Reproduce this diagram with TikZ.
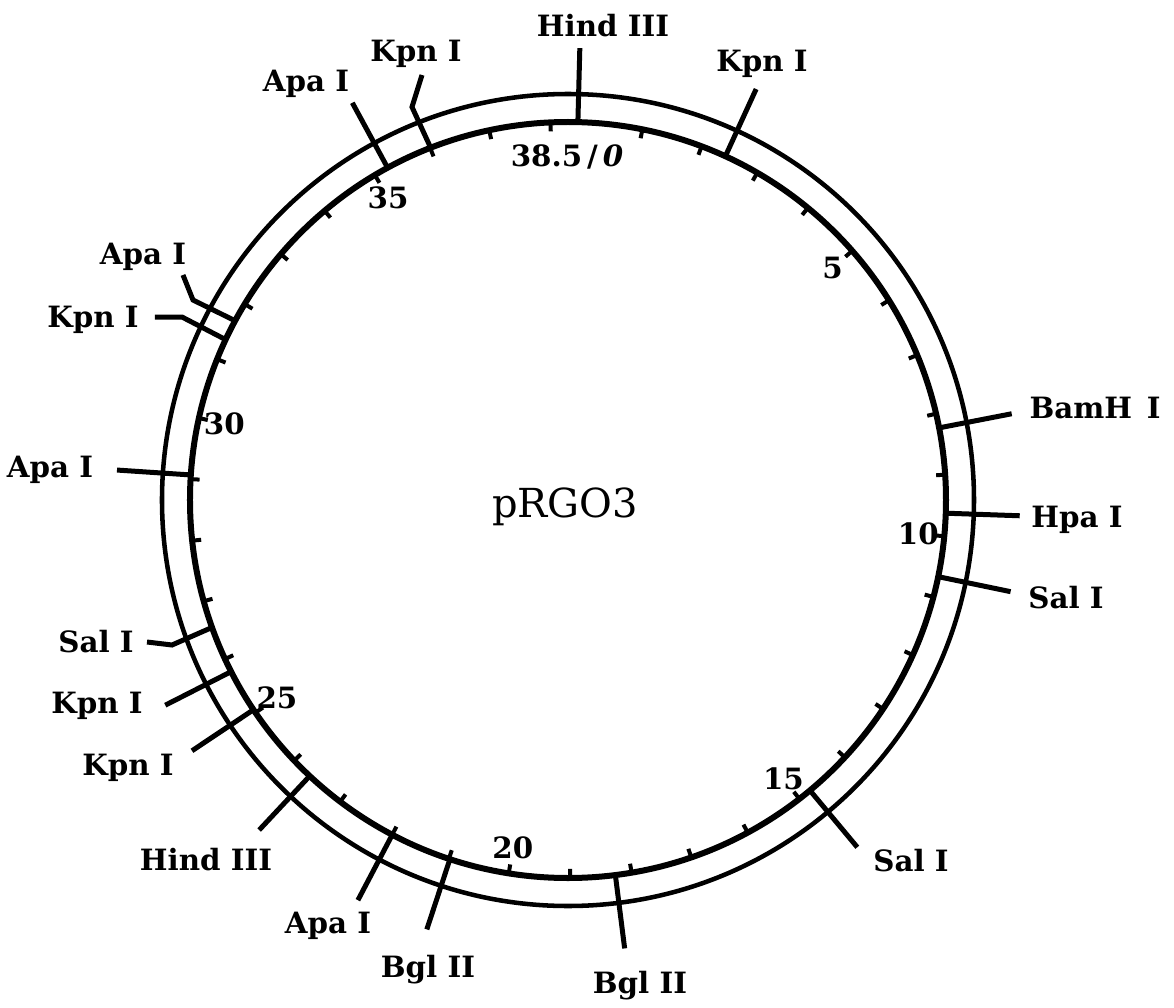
\documentclass[tikz,border=0pt]{standalone}
\usepackage{tikz}
\usepackage{fontspec}
\setmainfont{DejaVu Serif}

\begin{document}
\begin{tikzpicture}[x=0.75pt,y=0.75pt,
    site/.style={font=\fontsize{22}{26}\selectfont\bfseries, anchor=base, inner sep=0pt},
    num/.style={font=\fontsize{22}{26}\selectfont\bfseries, inner sep=0pt},
    cut/.style={line width=3.75pt},
    tickmark/.style={line width=3pt}]
    \useasboundingbox (-568,-507) rectangle (606,500);
    % plasmid ring
    \draw[line width=3.4pt] (0,0) circle (406);
    \draw[line width=4.5pt] (0,0) circle (378);
    \node[font=\fontsize{30}{36}\selectfont, anchor=base] (name) at (-3,-17) {pRGO3};
    % kb scale, 38.5 kb, 0 at top
    \foreach \k in {1,...,38}
        \draw[tickmark] ({88-\k*360/38.5}:378) -- ({88-\k*360/38.5}:369);
    \foreach \k in {5,10,...,35}
        \node[num] (kb\k) at ({88-\k*360/38.5}:352) {\k};
    \node[num] (kb0) at (-1,343) {38.5\,/\,{\itshape 0}};
    % straight sites
    \foreach \n/\a/\x/\y/\txt in {
        hindt/88.5/35/463/Hind III,
        kpnr/65.4/194/428/Kpn I,
        apat/118.5/-262/408/Apa I,
        apal/176.2/-518/23/Apa I,
        bamh/11.0/527/82/BamH\enspace I,
        hpa/-2.0/509/-27/Hpa I,
        salr/-11.7/498/-108/Sal I,
        salb/-50.2/343/-371/Sal I,
        bglr/-82.8/72/-493/Bgl II,
        bgll/-108.2/-140/-477/Bgl II,
        apab/-117.7/-240/-433/Apa I,
        hindb/-133.1/-362/-370/Hind III,
        kpnlo/-146.3/-440/-275/Kpn I,
        kpnup/-153.0/-471/-213/Kpn I}{
        \coordinate (in\n) at (\a:378);
        \coordinate (out\n) at (\a:452);
        \node[site] (lab\n) at (\x,\y) {\txt};
        \draw[cut] (in\n) -- (out\n);
    }
    % bent sites
    \foreach \n/\a/\bx/\by/\ex/\ey/\x/\y/\txt in {
        kpntl/111.3/-156/393/-146/425/-152/438/Kpn I,
        apaul/151.7/-375/200/-385/225/-425/235/Apa I,
        kpnl/154.9/-386/183/-413/183/-475/173/Kpn I,
        sall/-160.3/-396/-145/-421/-142/-472/-152/Sal I}{
        \coordinate (in\n) at (\a:378);
        \coordinate (bend\n) at (\bx,\by);
        \coordinate (out\n) at (\ex,\ey);
        \node[site] (lab\n) at (\x,\y) {\txt};
        \draw[cut] (in\n) -- (bend\n) -- (out\n);
    }
\end{tikzpicture}
\end{document}
